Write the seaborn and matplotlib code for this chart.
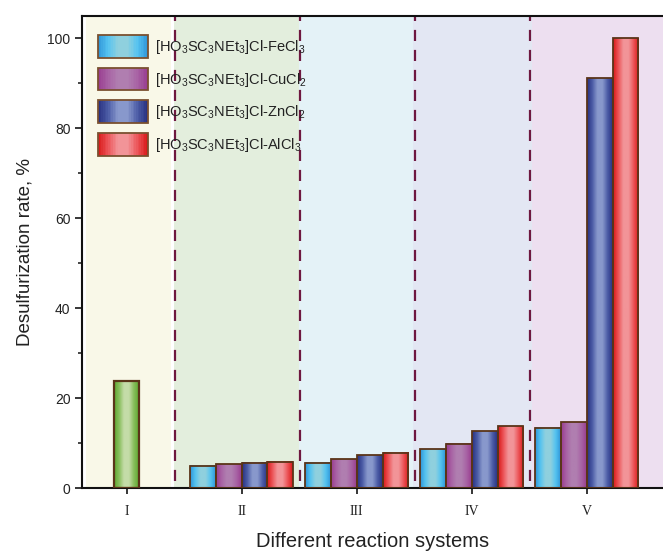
import numpy as np
import pandas as pd
import matplotlib
matplotlib.use("Agg")
import matplotlib.pyplot as plt
import seaborn as sns
from matplotlib.colors import LinearSegmentedColormap, to_rgba
from matplotlib.legend_handler import HandlerBase
from matplotlib.patches import Rectangle, Patch

# ---------------- data ----------------
systems = ["I", "II", "III", "IV", "V"]
catalysts = [
    r"[HO$_3$SC$_3$NEt$_3$]Cl-FeCl$_3$",
    r"[HO$_3$SC$_3$NEt$_3$]Cl-CuCl$_2$",
    r"[HO$_3$SC$_3$NEt$_3$]Cl-ZnCl$_2$",
    r"[HO$_3$SC$_3$NEt$_3$]Cl-AlCl$_3$",
]
fe_vals = [4.9, 5.6, 8.6, 13.4]
cu_vals = [5.3, 6.4, 9.8, 14.6]
zn_vals = [5.6, 7.3, 12.6, 91.1]
al_vals = [5.8, 7.8, 13.7, 100.0]
group_systems = ["II", "III", "IV", "V"]
single_system = ["I"]
single_value = [23.8]

# ---------------- style ----------------
sns.set_style("ticks")
plt.rcParams["font.family"] = ["Liberation Sans", "DejaVu Sans"]
plt.rcParams["mathtext.fontset"] = "custom"
plt.rcParams["mathtext.rm"] = "Liberation Sans"
plt.rcParams["mathtext.it"] = "Liberation Sans"
plt.rcParams["mathtext.default"] = "regular"

base_colors = ["#5cc4ee", "#a866a6", "#5060a8", "#ee5c60"]
green_base = "#8cc060"
gradients = {
    "#5cc4ee": ["#2f95d8", "#55c3f0", "#8fd0de", "#8fd0de", "#55c3f0", "#2f95d8"],
    "#a866a6": ["#983c90", "#a862a4", "#b07eb0", "#b07eb0", "#a862a4", "#983c90"],
    "#5060a8": ["#283080", "#4c5ca6", "#8898cc", "#8898cc", "#4c5ca6", "#283080"],
    "#ee5c60": ["#d81818", "#ec5458", "#f29498", "#f29498", "#ec5458", "#d81818"],
    "#8cc060": ["#5ea830", "#88be5c", "#c4dca8", "#c4dca8", "#88be5c", "#5ea830"],
}
edge_col = "#5a3418"
band_colors = ["#f9f8e8", "#e3eedd", "#e4f2f7", "#e3e7f3", "#eddff0"]
band_edges = [(-0.35, 0.385), (0.413, 1.5), (1.5, 2.492), (2.492, 3.52), (3.52, 4.67)]
divider_pos = [0.42, 1.507, 2.507, 3.507]

df = pd.DataFrame({
    "system": group_systems * 4,
    "catalyst": sum([[c] * 4 for c in catalysts], []),
    "rate": fe_vals + cu_vals + zn_vals + al_vals,
})

fig = plt.figure(figsize=(6.63, 5.56), dpi=100)
ax = fig.add_axes([81.7 / 663, 68 / 556, (663 - 81.7) / 663, 472 / 556])

# background bands and dividers
for (lo, hi), c in zip(band_edges, band_colors):
    ax.axvspan(lo, hi, color=c, lw=0, zorder=0)
for xp in divider_pos:
    ax.axvline(xp, ymin=0.015, ymax=1, color="#6e1840", lw=1.6,
               linestyle=(0, (5, 4)), zorder=1)

palette = dict(zip(catalysts, base_colors))
sns.barplot(data=df, x="system", y="rate", hue="catalyst", order=systems,
            hue_order=catalysts, palette=palette, width=0.9, saturation=1,
            edgecolor=edge_col, linewidth=1.3, legend=False, ax=ax, errorbar=None)
sns.barplot(x=single_system, y=single_value, order=systems, color=green_base,
            width=0.21, saturation=1, edgecolor=edge_col, linewidth=1.6,
            ax=ax, errorbar=None)


def grad_image(colors, n=64):
    cmap = LinearSegmentedColormap.from_list("g", colors)
    return cmap(np.linspace(0, 1, n))[np.newaxis, :, :]


for p in list(ax.patches):
    if not isinstance(p, Rectangle):
        continue
    fc = p.get_facecolor()
    key = None
    for k in gradients:
        if np.allclose(fc[:3], to_rgba(k)[:3], atol=0.01):
            key = k
    if key is None:
        continue
    x0, y0 = p.get_x(), p.get_y()
    w, h = p.get_width(), p.get_height()
    if h <= 0:
        continue
    ax.imshow(grad_image(gradients[key]), extent=[x0, x0 + w, y0, y0 + h],
              aspect="auto", interpolation="bilinear", zorder=2)
    p.set_facecolor("none")
    p.set_zorder(3)

ax.set_xlim(-0.39, 4.663)
ax.set_ylim(0, 104.9)


# legend with gradient handles
class GradHandler(HandlerBase):
    def create_artists(self, legend, orig_handle, xdescent, ydescent, width,
                       height, fontsize, trans):
        cols = gradients[orig_handle.get_label()]
        cmap = LinearSegmentedColormap.from_list("g", cols)
        n = 30
        arts = []
        for i in range(n):
            r = Rectangle((-xdescent + width * i / n, -ydescent), width / n + 0.3,
                          height, facecolor=cmap((i + 0.5) / n), lw=0,
                          transform=trans)
            arts.append(r)
        arts.append(Rectangle((-xdescent, -ydescent), width, height,
                              facecolor="none", edgecolor="#7a5030", lw=1.3,
                              transform=trans))
        return arts


handles = [Patch(label=c) for c in base_colors]
leg = ax.legend(handles, catalysts, handler_map={Patch: GradHandler()},
                loc="upper left", bbox_to_anchor=(98 / 663, 1 - 35 / 556),
                bbox_transform=fig.transFigure, frameon=False, fontsize=10.5,
                handlelength=3.4, handleheight=2.0, labelspacing=0.7,
                handletextpad=0.5, borderpad=0, borderaxespad=0)
for t in leg.get_texts():
    t.set_color("#222222")

# axes styling
for s in ["left", "bottom", "top"]:
    ax.spines[s].set_linewidth(1.5)
    ax.spines[s].set_color("#111111")
ax.spines["right"].set_visible(False)
ax.set_yticks(np.arange(0, 101, 20))
ax.set_yticks(np.arange(10, 101, 20), minor=True)
ax.tick_params(axis="y", which="major", direction="out", length=5, width=1.3,
               labelsize=10, pad=3, labelcolor="#222222")
ax.tick_params(axis="y", which="minor", direction="out", length=3, width=1.2)
ax.tick_params(axis="x", which="major", direction="out", length=4, width=1.3,
               pad=8, labelcolor="#222222")
ax.set_xticks(range(len(systems)))
ax.set_xticklabels(systems, family="Liberation Serif", fontsize=10)
ax.set_xlabel("Different reaction systems", fontsize=14.5, labelpad=10,
              color="#222222")
ax.set_ylabel("Desulfurization rate, %", fontsize=13.5, labelpad=10,
              color="#222222")

fig.savefig("out.png", dpi=100)
